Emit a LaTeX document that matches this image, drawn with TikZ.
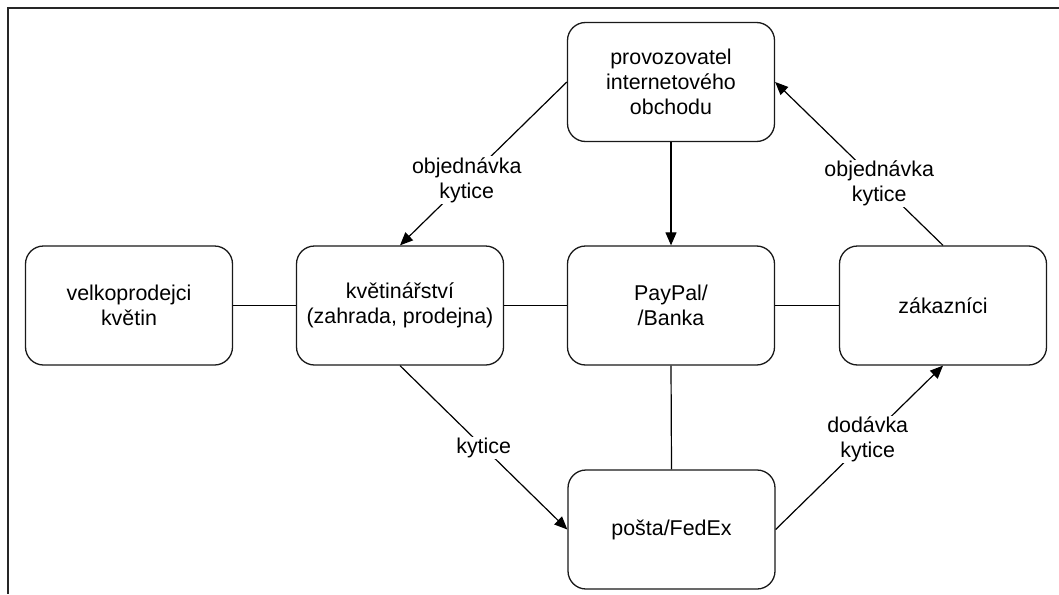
\documentclass[tikz,border=0pt]{standalone}
\usepackage{fontspec}
\setmainfont{Liberation Sans}
\usetikzlibrary{arrows.meta}
\begin{document}
\begin{tikzpicture}[
  x={(1pt,0pt)}, y={(0pt,-1pt)},
  every node/.style={font=\fontsize{21.4pt}{25pt}\selectfont},
  actor/.style={draw=black!90, line width=1.3pt, rounded corners=18pt,
    minimum width=207pt, minimum height=119pt, align=center, fill=white, inner sep=0pt},
  link/.style={draw=black, line width=1.2pt},
  flow/.style={link, -{Triangle[length=13pt,width=11pt]}},
  lbl/.style={fill=white, align=center, inner sep=1pt}
]
\useasboundingbox (0,0) rectangle (1059,594);
% outer frame
\draw[line width=2pt, black!85] (1059,8.5) -- (7.5,8.5) -- (7.5,594);

% participants
\node[actor] (velko)  at (129,305.5) {velkoprodejci\\květin};
\node[actor] (kvet)   at (400,305.5) {květinářství\\(zahrada, prodejna)};
\node[actor] (bank)   at (671,305.5) {PayPal/\\/Banka};
\node[actor] (zak)    at (943,305.5) {zákazníci};
\node[actor] (shop)   at (671,82)    {provozovatel\\internetového\\obchodu};
\node[actor] (posta)  at (671.5,529.5) {pošta/FedEx};

% plain links
\draw[link] (velko.east) -- (kvet.west);
\draw[link] (kvet.east) -- (bank.west);
\draw[link] (bank.east) -- (zak.west);
\draw[link] (bank.south) -- (posta.north);

% flows
\draw[flow] (shop.south) -- (bank.north);
\draw[flow] (shop.west) -- node[lbl, pos=0.6] {objednávka\\kytice} (kvet.north);
\draw[flow] (zak.north) -- node[lbl, pos=0.38] {objednávka\\kytice} (shop.east);
\draw[flow] (kvet.south) -- node[lbl, pos=0.5] {kytice} (posta.west);
\draw[flow] (posta.east) -- node[lbl, pos=0.55] {dodávka\\kytice} (zak.south);
\end{tikzpicture}
\end{document}
